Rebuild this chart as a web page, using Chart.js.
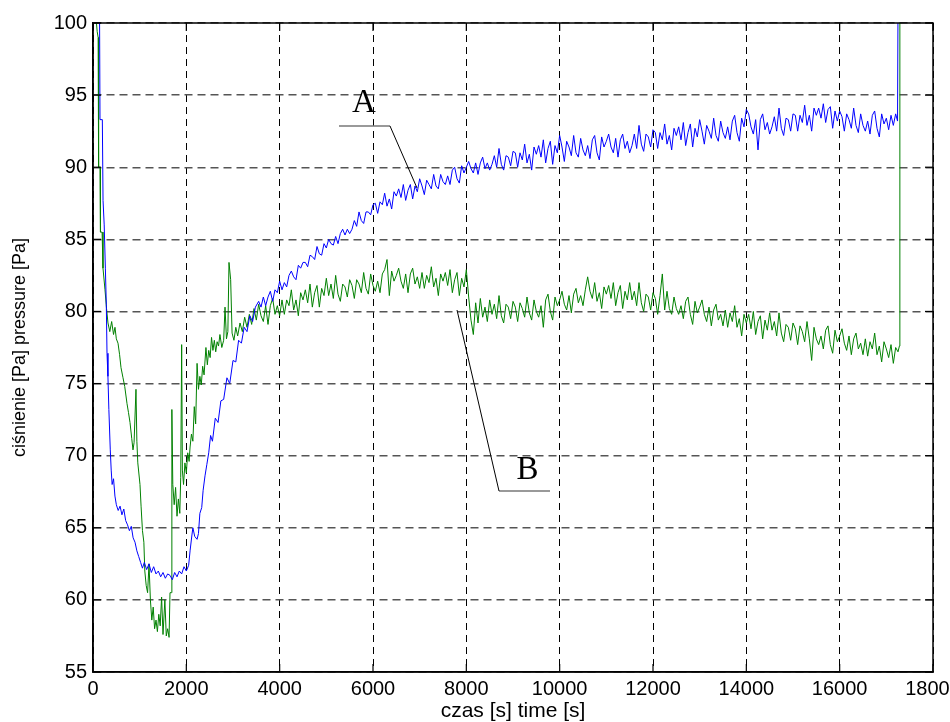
<!DOCTYPE html>
<html><head><meta charset="utf-8">
<script src="https://cdn.jsdelivr.net/npm/chart.js@4.4.1/dist/chart.umd.min.js"></script>
<style>html,body{margin:0;padding:0;background:#fff;}canvas{display:block;}</style>
</head><body>
<canvas id="c" width="950" height="722"></canvas>
<script>
// ---- data ----
const timeAStart = [
0,140,150,200,215,240,265,285,300,320,
340,370,390,410,440,470,500,540,580,620,
660,700,740,780,820,860,900,940,980,1020,
1060,1100,1150,1200,1250,1300,1350,1400,1450,1500,
1550,1600,1650,1700,1750,1800,1850,1900,1950,2000,
2050,2080,2120,2140,2180,2230,2260,2290,2330,2360,
2400,2440,2480,2520,2560,2620,2680,2740,2800,2870,
2930,3000,3060,3120,3180,3240,3300,3360,3420,3480
];
const pressureAStart = [
101,101,93.3,93.3,87.7,86.0,83.0,80.5,77.1,75.5,
73.2,70.4,69.0,68.0,68.4,67.2,66.6,66.2,66.5,65.9,
66.3,65.5,65.2,64.8,65.1,64.3,64.0,63.4,63.0,62.6,
62.2,62.6,62.1,62.5,61.9,62.3,61.8,62.0,61.6,61.9,
61.5,61.8,61.7,61.4,61.9,61.6,62.0,61.8,62.3,62.0,
62.4,63.4,64.5,65.0,64.4,64.2,64.6,66.0,66.4,67.6,
68.6,69.4,70.2,71.4,71.0,72.6,72.3,73.8,73.9,75.4,
75.0,76.6,76.5,78.0,77.8,78.9,78.6,79.7,79.3,80.3
];
const sampleTimes = [
3550,3600,3650,3700,3750,3800,3850,3900,3950,4000,
4050,4100,4150,4200,4250,4300,4350,4400,4450,4500,
4550,4600,4650,4700,4750,4800,4850,4900,4950,5000,
5050,5100,5150,5200,5250,5300,5350,5400,5450,5500,
5550,5600,5650,5700,5750,5800,5850,5900,5950,6000,
6050,6100,6150,6200,6250,6300,6350,6400,6450,6500,
6550,6600,6650,6700,6750,6800,6850,6900,6950,7000,
7050,7100,7150,7200,7250,7300,7350,7400,7450,7500,
7550,7600,7650,7700,7750,7800,7850,7900,7950,8000,
8050,8100,8150,8200,8250,8300,8350,8400,8450,8500,
8550,8600,8650,8700,8750,8800,8850,8900,8950,9000,
9050,9100,9150,9200,9250,9300,9350,9400,9450,9500,
9550,9600,9650,9700,9750,9800,9850,9900,9950,10000,
10050,10100,10150,10200,10250,10300,10350,10400,10450,10500,
10550,10600,10650,10700,10750,10800,10850,10900,10950,11000,
11050,11100,11150,11200,11250,11300,11350,11400,11450,11500,
11550,11600,11650,11700,11750,11800,11850,11900,11950,12000,
12050,12100,12150,12200,12250,12300,12350,12400,12450,12500,
12550,12600,12650,12700,12750,12800,12850,12900,12950,13000,
13050,13100,13150,13200,13250,13300,13350,13400,13450,13500,
13550,13600,13650,13700,13750,13800,13850,13900,13950,14000,
14050,14100,14150,14200,14250,14300,14350,14400,14450,14500,
14550,14600,14650,14700,14750,14800,14850,14900,14950,15000,
15050,15100,15150,15200,15250,15300,15350,15400,15450,15500,
15550,15600,15650,15700,15750,15800,15850,15900,15950,16000,
16050,16100,16150,16200,16250,16300,16350,16400,16450,16500,
16550,16600,16650,16700,16750,16800,16850,16900,16950,17000,
17050,17100,17150,17200
];
const pressureASamples = [
80.7,80.3,81.0,80.4,81.0,81.4,80.7,81.5,81.3,82.1,
81.5,82.0,81.7,82.5,82.8,82.4,82.2,83.2,83.0,83.4,
83.4,83.1,83.9,83.8,83.6,84.5,84.0,83.9,84.7,84.4,
85.0,84.7,84.6,85.2,84.7,85.4,85.7,85.3,85.7,85.4,
85.7,86.3,85.9,86.9,86.3,86.1,86.9,86.9,86.7,87.4,
87.5,86.8,87.6,87.4,88.2,87.3,87.8,87.1,88.3,88.0,
88.5,87.9,88.8,87.7,88.4,88.8,87.8,88.7,88.3,89.2,
88.7,88.1,89.1,88.8,88.5,89.5,88.7,88.5,89.5,89.0,
88.8,89.4,88.8,89.8,90.0,89.2,88.9,90.1,89.6,90.0,
90.4,89.9,89.6,90.3,89.5,90.3,90.7,89.9,90.3,89.8,
90.2,90.8,90.0,91.3,90.2,89.8,90.8,90.7,90.1,91.1,
91.0,90.0,91.0,90.5,91.6,90.3,90.9,89.8,91.4,90.9,
91.5,90.7,91.9,90.3,91.3,91.8,90.2,91.5,91.0,92.2,
91.4,90.4,91.8,91.4,90.8,92.2,91.0,90.7,92.0,91.2,
90.8,91.5,90.6,91.9,92.2,91.0,90.5,92.1,91.4,91.8,
92.3,91.4,91.0,92.0,90.7,91.9,92.3,91.3,91.8,91.0,
91.5,92.3,91.3,92.9,91.6,91.1,92.3,92.1,91.4,92.6,
92.4,91.3,92.4,91.9,93.0,91.6,92.2,91.2,92.7,92.2,
92.8,91.9,93.1,91.5,92.4,93.0,91.4,92.7,92.1,93.3,
92.5,91.6,92.9,92.5,92.0,93.4,92.2,91.8,93.2,92.4,
92.0,92.8,91.9,93.2,93.6,92.4,91.8,93.4,92.8,94.0,
93.7,92.8,92.3,93.3,91.2,93.3,93.7,92.6,93.1,92.3,
92.8,93.5,92.5,94.1,92.7,92.2,93.4,93.3,92.5,93.7,
93.6,92.5,93.6,93.1,94.3,92.9,93.6,92.5,94.1,93.6,
94.1,93.4,94.4,93.1,94.0,94.2,92.7,93.9,93.2,93.9,
93.5,92.5,93.7,93.3,92.7,94.1,92.9,92.4,93.7,92.9,
92.5,93.2,92.3,93.6,93.9,92.7,92.1,93.7,93.0,93.4,
92.6,93.6,92.9,93.7
];
const timeAEnd = [17240,17250,17300];
const pressureAEnd = [93.2,101,101];

const timeBStart = [
0,60,90,110,120,150,160,195,214,257,
290,321,360,400,440,471,500,536,570,600,
643,680,729,760,793,830,857,880,921,940,
960,1007,1030,1060,1090,1110,1140,1170,1200,1230,
1260,1290,1320,1350,1380,1410,1440,1470,1500,1540,
1570,1600,1630,1650,1680,1690,1710,1740,1770,1800,
1830,1860,1880,1900,1915,1940,1970,2000,2030,2060,
2080,2110,2140,2170,2200,2230,2260,2290,2320,2350,
2380,2420,2450,2480,2510,2540,2570,2600,2630,2660,
2690,2720,2760,2800,2829,2860,2890,2914,2950,2980,
3020,3060,3100,3150,3200,3250,3300,3350,3400,3450,
3500
];
const pressureBStart = [
101,100.5,99.4,99.0,90.0,90.0,85.5,85.5,83.0,81.5,
80.2,79.2,78.6,79.3,78.4,78.9,78.1,77.8,77.0,76.1,
75.4,74.8,73.6,73.0,72.3,71.2,70.4,70.9,74.6,71.0,
69.5,68.0,66.5,64.8,64.0,62.0,61.0,60.5,62.5,60.0,
58.6,59.5,58.0,58.6,57.8,59.0,58.2,60.2,57.6,60.0,
57.5,58.0,57.4,60.5,60.5,73.2,68.0,66.6,67.8,65.8,
67.0,66.0,68.5,77.7,69.0,68.0,69.5,68.8,70.2,69.6,
70.6,71.5,71.0,73.4,72.2,76.4,74.6,75.5,74.9,76.2,
75.6,77.5,76.3,77.3,76.8,78.2,77.3,78.0,77.2,77.9,
77.6,78.4,77.5,78.0,80.3,78.1,78.6,83.4,82.2,78.5,
78.0,78.9,78.3,79.2,78.6,79.6,78.9,79.8,79.1,80.2,
79.4
];
const pressureBSamples = [
80.5,79.7,79.3,80.4,79.1,80.4,80.9,79.8,80.4,79.7,
80.8,79.8,80.8,80.4,81.5,80.1,80.8,79.7,81.3,80.8,
81.5,80.6,81.9,80.3,81.3,81.8,80.3,81.6,81.1,82.3,
81.1,81.9,80.9,82.5,81.2,80.7,81.9,81.7,81.0,82.2,
81.8,80.9,82.2,81.9,81.3,82.7,81.6,81.2,82.6,81.8,
81.4,82.1,81.3,82.6,82.9,83.6,81.1,82.8,82.1,82.5,
83.0,82.1,81.6,82.6,81.3,82.6,83.0,81.9,82.4,81.6,
82.7,81.6,82.5,82.0,83.1,81.7,82.3,81.1,82.6,82.1,
82.7,81.8,82.9,81.3,82.2,82.7,81.1,82.3,81.7,82.9,
81.0,79.4,78.4,80.6,79.2,80.9,79.6,80.3,79.3,80.8,
79.8,80.5,79.5,81.1,79.7,79.2,80.5,80.3,79.5,80.7,
80.3,79.3,80.6,80.2,79.6,81.0,79.9,79.4,80.8,80.0,
79.6,80.4,78.9,80.8,81.2,80.0,79.4,81.0,80.4,80.8,
81.4,80.5,80.1,81.1,79.9,81.2,81.6,80.6,81.1,80.4,
81.5,82.4,81.4,80.9,82.0,80.7,81.3,80.2,81.7,81.2,
81.8,80.9,82.0,80.4,81.3,81.8,80.2,81.4,80.8,82.0,
80.8,81.4,80.4,82.0,80.6,80.0,81.2,81.0,80.1,81.3,
80.9,79.8,81.1,82.6,80.1,81.4,80.2,79.8,81.0,80.2,
79.8,80.4,79.5,80.7,81.0,79.8,79.1,80.7,79.9,80.3,
80.8,79.8,79.3,80.3,79.0,80.1,80.5,79.4,79.8,79.0,
80.1,78.9,79.9,79.3,80.4,78.9,79.5,78.3,79.8,79.2,
79.8,78.8,80.0,78.4,79.3,79.7,78.1,79.4,78.7,79.9,
78.7,79.3,78.3,79.9,78.5,77.9,79.1,78.9,78.0,79.2,
78.8,77.7,79.0,78.6,77.9,79.3,78.1,76.6,78.9,78.1,
77.7,78.3,77.4,78.7,79.0,77.7,77.1,78.7,77.9,78.3,
78.8,77.8,77.3,78.3,77.0,78.1,78.5,77.4,77.8,77.0,
78.1,76.9,77.9,77.4,78.5,77.0,77.6,76.5,77.9,77.4,
76.8,77.7,76.4,77.5
];
const timeBEnd = [17250,17280,17290,17300];
const pressureBEnd = [77.2,77.6,101,101];

const xTickValues = [0,2000,4000,6000,8000,10000,12000,14000,16000,18000];
const yTickValues = [55,60,65,70,75,80,85,90,95,100];
const seriesNames = ['A','B'];

const timeA = timeAStart.concat(sampleTimes, timeAEnd);
const pressureA = pressureAStart.concat(pressureASamples, pressureAEnd);
const timeB = timeBStart.concat(sampleTimes, timeBEnd);
const pressureB = pressureBStart.concat(pressureBSamples, pressureBEnd);

// ---- callouts (data coordinates) ----
const callouts = [
  {text: seriesNames[0], label: [5807, 94.56], shelf: [[5271, 92.86], [6364, 92.86]], leader: [[6364, 92.86], [6943, 88.56]]},
  {text: seriesNames[1], label: [9311, 69.14], shelf: [[8700, 67.55], [9793, 67.55]], leader: [[7800, 80.1], [8700, 67.55]]}
];

const toPts = (t, v) => t.map((x, i) => ({x, y: v[i]}));

const framePlugin = {
  id: 'frame',
  afterDatasetsDraw(chart) {
    const {ctx, chartArea: a, scales: {x, y}} = chart;
    const seg = (x1, y1, x2, y2) => { ctx.beginPath(); ctx.moveTo(x1, y1); ctx.lineTo(x2, y2); ctx.stroke(); };
    ctx.save();
    ctx.setLineDash([]);
    callouts.forEach(c => {
      ctx.strokeStyle = '#777'; ctx.lineWidth = 1.6;
      seg(x.getPixelForValue(c.shelf[0][0]), y.getPixelForValue(c.shelf[0][1]),
          x.getPixelForValue(c.shelf[1][0]), y.getPixelForValue(c.shelf[1][1]));
      ctx.strokeStyle = '#000'; ctx.lineWidth = 1;
      seg(x.getPixelForValue(c.leader[0][0]), y.getPixelForValue(c.leader[0][1]),
          x.getPixelForValue(c.leader[1][0]), y.getPixelForValue(c.leader[1][1]));
      ctx.fillStyle = '#000';
      ctx.font = '33px "Liberation Serif", "Times New Roman", serif';
      ctx.textAlign = 'center'; ctx.textBaseline = 'middle';
      ctx.fillText(c.text, x.getPixelForValue(c.label[0]), y.getPixelForValue(c.label[1]) + 2);
    });
    ctx.strokeStyle = '#000'; ctx.lineWidth = 1.5;
    ctx.strokeRect(a.left, a.top, a.right - a.left, a.bottom - a.top);
    ctx.lineWidth = 1.2;
    const L = 8;
    xTickValues.forEach(v => {
      const px = x.getPixelForValue(v);
      seg(px, a.bottom, px, a.bottom - L);
      seg(px, a.top, px, a.top + L);
    });
    yTickValues.forEach(v => {
      const py = y.getPixelForValue(v);
      seg(a.left, py, a.left + L, py);
      seg(a.right, py, a.right - L, py);
    });
    ctx.restore();
  }
};

const font = '"Liberation Sans", Arial, sans-serif';

new Chart(document.getElementById('c'), {
  type: 'scatter',
  data: {
    datasets: [
      {label: seriesNames[0], data: toPts(timeA, pressureA), showLine: true, borderColor: '#0000ff', borderWidth: 1, pointRadius: 0, tension: 0},
      {label: seriesNames[1], data: toPts(timeB, pressureB), showLine: true, borderColor: '#008000', borderWidth: 1, pointRadius: 0, tension: 0}
    ]
  },
  options: {
    responsive: false,
    animation: false,
    devicePixelRatio: 1,
    layout: {padding: {left: 0, top: 23, right: 17, bottom: 0}},
    plugins: {legend: {display: false}, tooltip: {enabled: false}},
    scales: {
      x: {
        type: 'linear', min: 0, max: 18000,
        afterBuildTicks: s => { s.ticks = xTickValues.map(v => ({value: v})); },
        afterFit: s => { s.height = 50; s.paddingLeft = 0; s.paddingRight = 0; },
        ticks: {autoSkip: false, maxRotation: 0, padding: 5, color: '#000', font: {family: font, size: 20}, callback: v => String(v)},
        grid: {color: '#000', lineWidth: 1, drawTicks: false},
        border: {display: true, color: '#000', width: 1.5, dash: [7, 5]},
        title: {display: true, text: 'czas [s] time [s]', color: '#000', font: {family: font, size: 21, lineHeight: 1}, padding: {top: 0, bottom: 0}}
      },
      y: {
        type: 'linear', min: 55, max: 100,
        afterBuildTicks: s => { s.ticks = yTickValues.map(v => ({value: v})); },
        afterFit: s => { s.width = 93; s.paddingTop = 0; s.paddingBottom = 0; },
        ticks: {autoSkip: false, padding: 6, color: '#000', font: {family: font, size: 20}, callback: v => String(v)},
        grid: {color: '#555', lineWidth: 1.4, drawTicks: false},
        border: {display: true, color: '#000', width: 1.5, dash: [8, 5]},
        title: {display: true, text: 'ciśnienie [Pa] pressure [Pa]', color: '#000', font: {family: font, size: 18, lineHeight: 1.2}, padding: {top: 9, bottom: 0}}
      }
    }
  },
  plugins: [framePlugin]
});
</script>
</body></html>
